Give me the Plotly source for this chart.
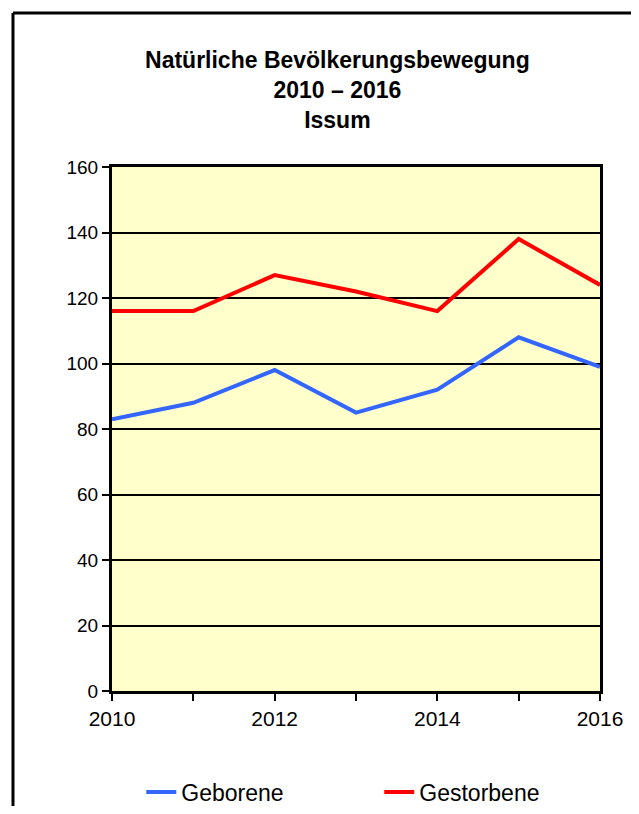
"""Natürliche Bevölkerungsbewegung Issum 2010-2016 als Liniendiagramm."""

import plotly.graph_objects as go

# Daten
jahre = [2010, 2011, 2012, 2013, 2014, 2015, 2016]
geborene = [83, 88, 98, 85, 92, 108, 99]
gestorbene = [116, 116, 127, 122, 116, 138, 124]

tick_jahre = [2010, 2011, 2012, 2013, 2014, 2015, 2016]
tick_texte = ["2010", "", "2012", "", "2014", "", "2016"]

FONT = "Arial, Liberation Sans, sans-serif"

fig = go.Figure()

fig.add_trace(go.Scatter(
    x=jahre,
    y=geborene,
    name="Geborene",
    mode="lines",
    line=dict(color="#3366FF", width=4),
))

fig.add_trace(go.Scatter(
    x=jahre,
    y=gestorbene,
    name="Gestorbene",
    mode="lines",
    line=dict(color="#FF0000", width=4),
))

# Rahmen um das ganze Diagramm (oben/links schwarz, rechts grau)
rahmen = [
    dict(x0=-0.2029, x1=1.0758, y0=1.2939, y1=1.2939, color="black", width=3),
    dict(x0=-0.2029, x1=-0.2029, y0=1.2939, y1=-0.25, color="black", width=3),
    dict(x0=1.0758, x1=1.0758, y0=1.2939, y1=-0.25, color="#A0A0A0", width=1),
]
for r in rahmen:
    fig.add_shape(type="line", xref="paper", yref="paper",
                  x0=r["x0"], x1=r["x1"], y0=r["y0"], y1=r["y1"],
                  line=dict(color=r["color"], width=r["width"]))

fig.update_layout(
    width=631,
    height=798,
    margin=dict(l=104, r=39, t=159, b=115, autoexpand=False),
    paper_bgcolor="white",
    plot_bgcolor="#FFFFCC",
    font=dict(family=FONT, color="black"),
    title=dict(
        text="<b>Natürliche Bevölkerungsbewegung<br>2010 – 2016<br>Issum</b>",
        x=0.522, xanchor="center", xref="container",
        y=0.925, yanchor="top", yref="container",
        font=dict(family=FONT, size=23, color="black"),
    ),
    xaxis=dict(
        range=[2010, 2016],
        tickvals=tick_jahre,
        ticktext=tick_texte,
        ticks="outside", ticklen=7, tickwidth=2, tickcolor="black",
        showgrid=False, zeroline=False,
        showline=True, linecolor="black", linewidth=3, mirror=True,
        tickfont=dict(family=FONT, size=21),
    ),
    yaxis=dict(
        range=[0, 160],
        dtick=20,
        ticks="outside", ticklen=7, tickwidth=2, tickcolor="black",
        showgrid=True, gridcolor="black", gridwidth=2, zeroline=False,
        showline=True, linecolor="black", linewidth=3, mirror=True,
        tickfont=dict(family=FONT, size=19),
    ),
    legend=dict(
        orientation="h",
        x=0.06, xanchor="left",
        y=0.0175, yanchor="middle", yref="container",
        font=dict(family=FONT, size=23),
        entrywidth=193,
        bgcolor="rgba(0,0,0,0)",
    ),
    showlegend=True,
)

fig.write_html("out.html")
